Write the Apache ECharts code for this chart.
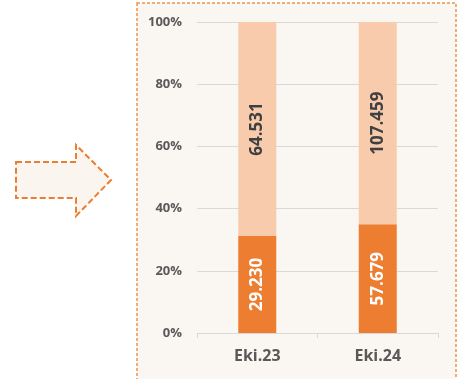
<!DOCTYPE html>
<html><head><meta charset="utf-8">
<script src="https://cdn.jsdelivr.net/npm/echarts@6/dist/echarts.min.js"></script>
<style>html,body{margin:0;padding:0;background:#fff}#c{width:463px;height:379px}</style>
</head><body><div id="c"></div>
<script>
const categories = ['Eki.23', 'Eki.24'];
const darkValues = [29230, 57679];
const lightValues = [64531, 107459];
const yTicks = [0, 20, 40, 60, 80, 100];

const totals = darkValues.map((v, i) => v + lightValues[i]);
const darkPct = darkValues.map((v, i) => v / totals[i] * 100);
const lightPct = lightValues.map((v, i) => v / totals[i] * 100);
const fmt = n => n.toString().replace(/\B(?=(\d{3})+(?!\d))/g, '.');
const FONT = 'Open Sans';

const chart = echarts.init(document.getElementById('c'), null, {renderer: 'canvas'});
chart.setOption({
  backgroundColor: '#ffffff',
  animation: false,
  graphic: [
    {type: 'rect', z: -10, shape: {x: 137, y: 3, width: 319, height: 390},
     style: {fill: '#FAF6F1', stroke: '#F0924F', lineWidth: 1.5, lineDash: [3, 2]}},
    {type: 'polygon', z: -10,
     shape: {points: [[16,162],[76,162],[76,145],[111,180],[76,216],[76,198],[16,198]]},
     style: {fill: '#FBF5EF', stroke: '#ED7D31', lineWidth: 2, lineDash: [6, 3]}}
  ],
  grid: {left: 197, right: 25, top: 22, bottom: 46},
  xAxis: {
    type: 'category', data: categories,
    axisLine: {lineStyle: {color: '#D9D9D9', width: 1}},
    axisTick: {show: true, length: 5, lineStyle: {color: '#D9D9D9'}},
    axisLabel: {color: '#595959', fontWeight: 'bold', fontSize: 16, fontFamily: FONT, margin: 15}
  },
  yAxis: {
    type: 'value', min: 0, max: 100, interval: 20,
    axisLine: {show: false}, axisTick: {show: false},
    splitLine: {lineStyle: {color: '#D9D9D9', width: 1}},
    axisLabel: {color: '#595959', fontWeight: 'bold', fontSize: 13, fontFamily: FONT, margin: 15,
      formatter: v => yTicks.includes(v) ? v + '%' : ''}
  },
  series: [
    {type: 'bar', stack: 's', barWidth: 38, data: darkPct,
     itemStyle: {color: '#ED7D31'},
     label: {show: true, position: 'inside', rotate: 90, color: '#ffffff', fontWeight: 'bold',
       fontSize: 17, fontFamily: FONT, formatter: p => fmt(darkValues[p.dataIndex])}},
    {type: 'bar', stack: 's', barWidth: 38, data: lightPct,
     itemStyle: {color: '#F8CBAD'},
     label: {show: true, position: 'inside', rotate: 90, color: '#404040', fontWeight: 'bold',
       fontSize: 17, fontFamily: FONT, formatter: p => fmt(lightValues[p.dataIndex])}}
  ]
});
</script></body></html>
